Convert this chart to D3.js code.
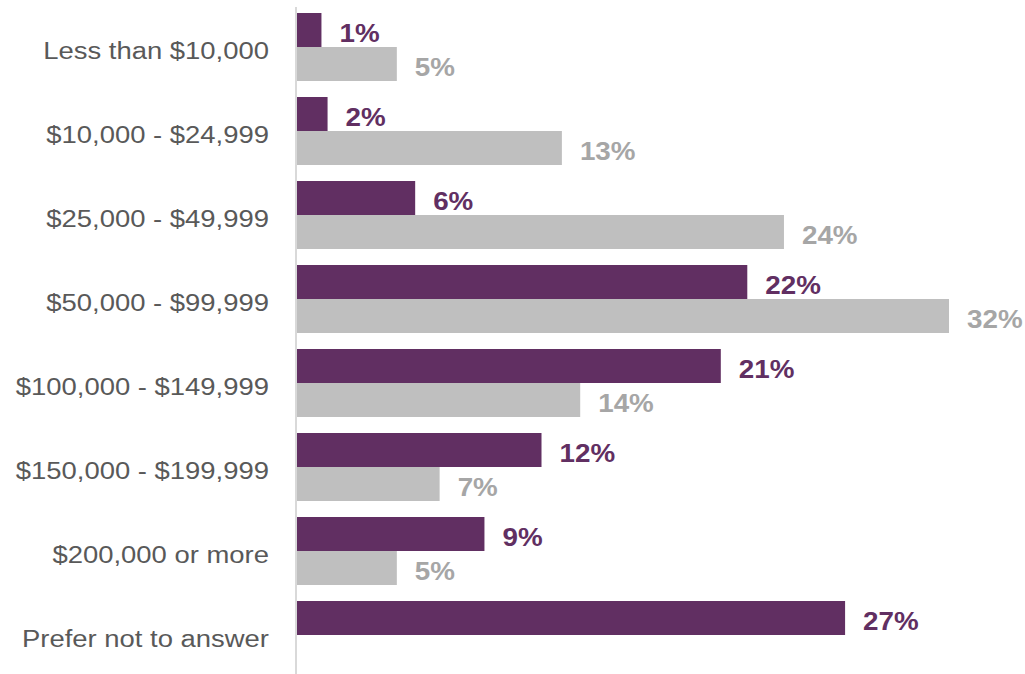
<!DOCTYPE html>
<html>
<head>
<meta charset="utf-8">
<script src="https://cdn.jsdelivr.net/npm/d3@7"></script>
<style>
  html, body { margin: 0; padding: 0; background: #ffffff; }
  svg { display: block; }
</style>
</head>
<body>
<svg id="chart" width="1025" height="674"></svg>
<script>
const categories = [
  "Less than $10,000",
  "$10,000 - $24,999",
  "$25,000 - $49,999",
  "$50,000 - $99,999",
  "$100,000 - $149,999",
  "$150,000 - $199,999",
  "$200,000 or more",
  "Prefer not to answer"
];
const seriesNames = ["Group A", "Group B"];
const purpleValues = [1.2, 1.5, 5.8, 22.1, 20.8, 12.0, 9.2, 26.9];
const greyValues   = [4.9, 13.0, 23.9, 32.0, 13.9, 7.0, 4.9, null];
const purpleLabels = ["1%", "2%", "6%", "22%", "21%", "12%", "9%", "27%"];
const greyLabels   = ["5%", "13%", "24%", "32%", "14%", "7%", "5%", ""];

const colors = { bar: ["#612f62", "#bfbfbf"], label: ["#612f62", "#a6a6a6"] };

const svg = d3.select("#chart");
const x0 = 297;
const x = d3.scaleLinear().domain([0, 32]).range([x0, 949]);
const y = d3.scaleBand().domain(categories).range([5, 677])
  .paddingInner(16 / 84).paddingOuter(8 / 84);
const ySub = d3.scaleBand().domain(seriesNames).range([0, y.bandwidth()]);

const rows = categories.map((c, i) => ({
  cat: c,
  vals: [
    { s: 0, v: purpleValues[i], lab: purpleLabels[i] },
    { s: 1, v: greyValues[i], lab: greyLabels[i] }
  ]
}));

// axis line
svg.append("line")
  .attr("x1", 296).attr("x2", 296)
  .attr("y1", 7).attr("y2", 674)
  .attr("stroke", "#d9d9d9").attr("stroke-width", 2);

const g = svg.selectAll("g.cat").data(rows).join("g")
  .attr("class", "cat")
  .attr("transform", d => `translate(0,${y(d.cat)})`);

g.selectAll("rect").data(d => d.vals.filter(v => v.v != null)).join("rect")
  .attr("x", x(0))
  .attr("y", d => ySub(seriesNames[d.s]))
  .attr("width", d => x(d.v) - x(0))
  .attr("height", ySub.bandwidth())
  .attr("fill", d => colors.bar[d.s]);

g.selectAll("g.vlab").data(d => d.vals.filter(v => v.v != null)).join("g")
  .attr("class", "vlab")
  .attr("transform", d => `translate(${x(d.v) + 18},${ySub(seriesNames[d.s]) + ySub.bandwidth() / 2 + 11.5}) scale(1.09,1)`)
  .append("text")
  .attr("font-family", "Liberation Sans, Arial, sans-serif")
  .attr("font-weight", "bold")
  .attr("font-size", 25.5)
  .attr("fill", d => colors.label[d.s])
  .text(d => d.lab);

// category labels
svg.selectAll("g.clab").data(categories).join("g")
  .attr("class", "clab")
  .attr("transform", d => `translate(269,${y(d) + y.bandwidth() / 2 + 12.3}) scale(1.12,1)`)
  .append("text")
  .attr("text-anchor", "end")
  .attr("font-family", "Liberation Sans, Arial, sans-serif")
  .attr("font-size", 24.5)
  .attr("fill", "#595959")
  .text(d => d);
</script>
</body>
</html>
